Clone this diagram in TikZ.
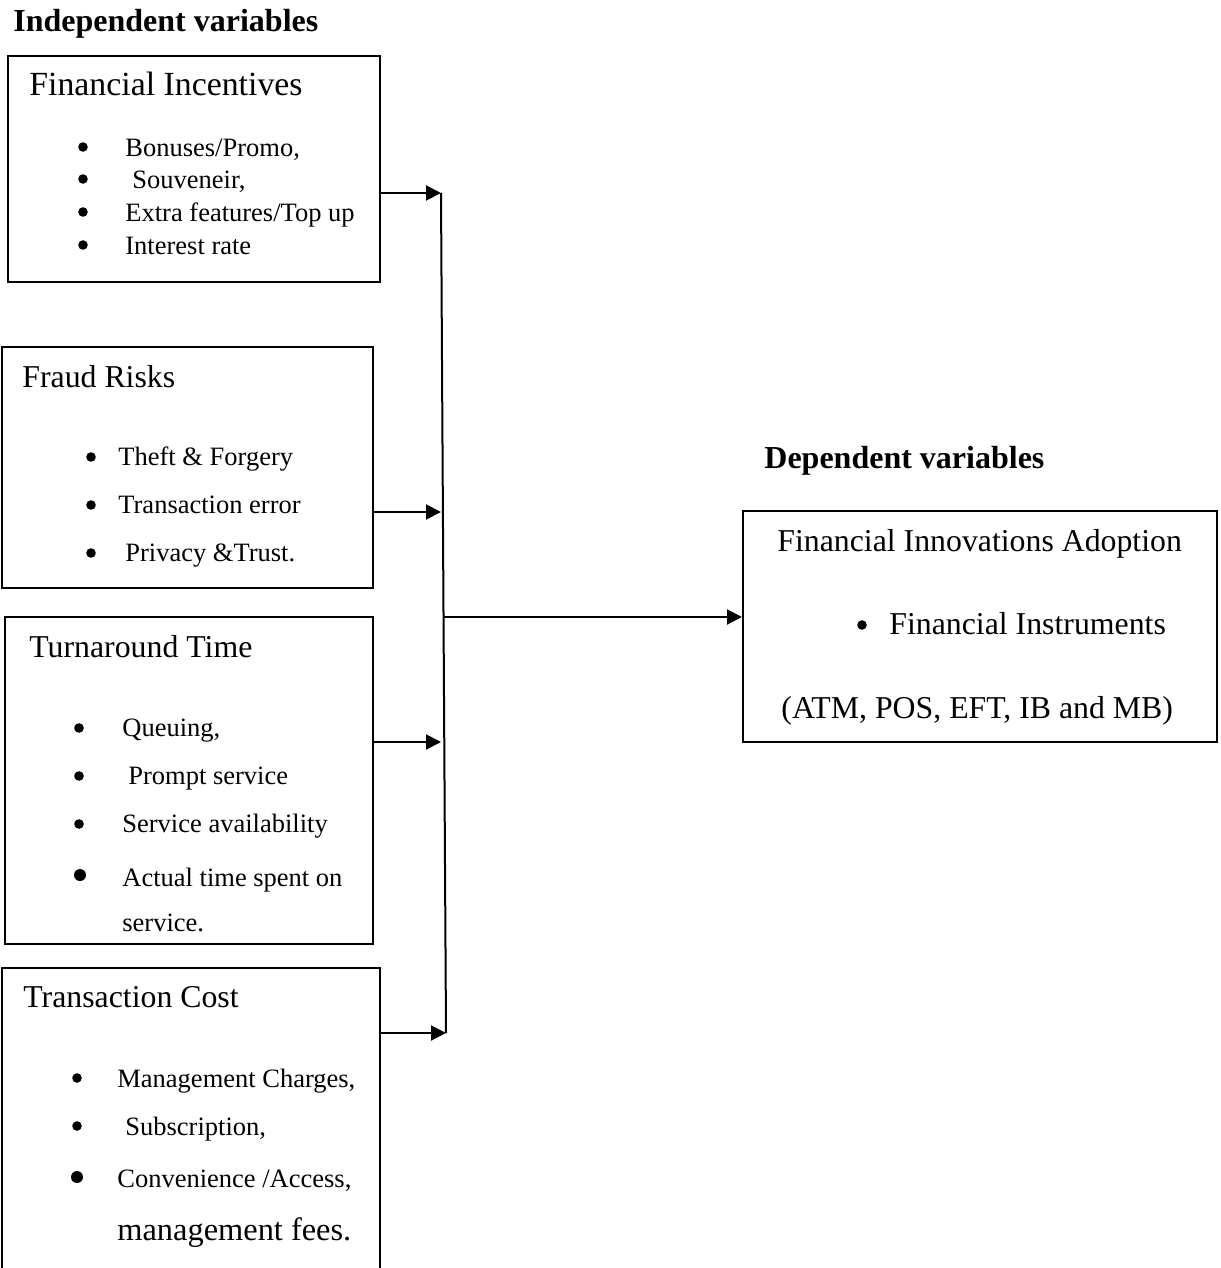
\documentclass[tikz,border=0pt]{standalone}
\usepackage{fontspec}
\setmainfont{Liberation Serif}
\usetikzlibrary{arrows.meta}
\begin{document}
\begin{tikzpicture}[x=0.5pt,y=-0.5pt,
  box/.style={draw,line width=1pt,inner sep=0pt},
  txt/.style={anchor=base west,inner sep=0pt},
  big/.style={txt,font=\fontsize{15.9}{19}\selectfont},
  small/.style={txt,font=\fontsize{13.25}{16}\selectfont},
  bul/.style={circle,fill,draw=none,inner sep=0pt,minimum size=4.8pt},
  bigbul/.style={circle,fill,draw=none,inner sep=0pt,minimum size=6pt},
  head/.style={txt,font=\bfseries\fontsize{16}{19}\selectfont},
  arr/.style={line width=1pt,-{Triangle[length=7.5pt,width=7.5pt]}},
  spine/.style={line width=1pt}]
\clip (0,0) rectangle (1220,1268);
% boxes
\node[box,minimum width=186pt,minimum height=113pt] (b1) at (194,169) {};
\node[box,minimum width=185.5pt,minimum height=120.5pt] (b2) at (187.5,467.5) {};
\node[box,minimum width=184pt,minimum height=163.5pt] (b3) at (189,780.5) {};
\node[box,minimum width=189pt,minimum height=166pt] (b4) at (191,1134) {};
\node[box,minimum width=237pt,minimum height=115.5pt] (b5) at (980,626.5) {};
% headings
\node[head] (h1) at (13,32) {Independent variables};
\node[head] (h2) at (764,468) {Dependent variables};
% box 1
\node[txt,font=\fontsize{16.9}{20}\selectfont] (t1) at (29,96) {Financial Incentives};
\node[bul] (u11) at (83,147) {};
\node[small] (t11) at (125,156) {Bonuses/Promo,};
\node[bul] (u12) at (83,179) {};
\node[small] (t12) at (132,188) {Souveneir,};
\node[bul] (u13) at (83,212) {};
\node[small] (t13) at (125,221) {Extra features/Top up};
\node[bul] (u14) at (83,245) {};
\node[small] (t14) at (125,254) {Interest rate};
% box 2
\node[big] (t2) at (22,387) {Fraud Risks};
\node[bul] (u21) at (91,457) {};
\node[small] (t21) at (118,465) {Theft \& Forgery};
\node[bul] (u22) at (91,505) {};
\node[small] (t22) at (118,513) {Transaction error};
\node[bul] (u23) at (91,553) {};
\node[small] (t23) at (125,561) {Privacy \&Trust.};
% box 3
\node[big] (t3) at (29,657) {Turnaround Time};
\node[bul] (u31) at (79,728) {};
\node[small] (t31) at (122,736) {Queuing,};
\node[bul] (u32) at (79,776) {};
\node[small] (t32) at (128,784) {Prompt service};
\node[bul] (u33) at (79,824) {};
\node[small] (t33) at (122,832) {Service availability};
\node[bigbul] (u34) at (80,875) {};
\node[small] (t34) at (122,886) {Actual time spent on};
\node[small] (t35) at (122,931) {service.};
% box 4
\node[big] (t4) at (23,1007) {Transaction Cost};
\node[bul] (u41) at (77,1078) {};
\node[small] (t41) at (117,1087) {Management Charges,};
\node[bul] (u42) at (77,1126) {};
\node[small] (t42) at (125,1135) {Subscription,};
\node[bigbul] (u43) at (77,1177) {};
\node[small] (t43) at (117,1187) {Convenience /Access,};
\node[txt,font=\fontsize{16.2}{19}\selectfont] (t44) at (117,1240) {management fees.};
% box 5
\node[big] (t5) at (777,551) {Financial Innovations Adoption};
\node[bul] (u51) at (862,625) {};
\node[big] (t51) at (889,634) {Financial Instruments};
\node[big] (t52) at (781,718) {(ATM, POS, EFT, IB and MB)};
% connectors
\coordinate (j1) at (441,193);
\coordinate (j2) at (441,512);
\coordinate (jm) at (443,617);
\coordinate (j3) at (441,742);
\coordinate (j4) at (446,1033);
\draw[spine] (j1) -- (j4);
\draw[arr] (b1.east |- j1) -- (j1);
\draw[arr] (b2.east |- j2) -- (j2);
\draw[arr] (b3.east |- j3) -- (j3);
\draw[arr] (b4.east |- j4) -- (j4);
\draw[arr] (jm) -- (jm -| b5.west);
\end{tikzpicture}
\end{document}
